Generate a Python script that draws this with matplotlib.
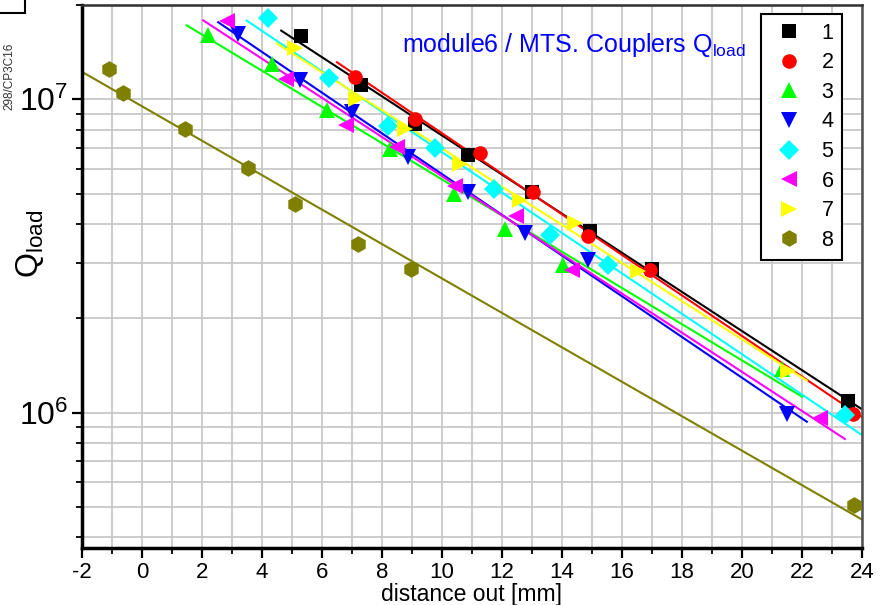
import numpy as np
import matplotlib
matplotlib.use('Agg')
import matplotlib.pyplot as plt
from matplotlib.ticker import LogLocator, MultipleLocator, NullFormatter
from matplotlib.patches import Rectangle

plt.rcParams['font.family'] = ['Liberation Sans', 'DejaVu Sans']
plt.rcParams['mathtext.fontset'] = 'custom'
plt.rcParams['mathtext.rm'] = 'Liberation Sans'
plt.rcParams['mathtext.it'] = 'Liberation Sans:italic'
plt.rcParams['axes.unicode_minus'] = False

# coupler Q_load vs antenna distance, 8 couplers
labels = ['1', '2', '3', '4', '5', '6', '7', '8']

x_1 = [5.29, 7.29, 9.10, 10.87, 13.00, 14.93, 16.99, 23.54]
q_1 = [1.59e7, 1.11e7, 8.32e6, 6.62e6, 5.05e6, 3.79e6, 2.88e6, 1.09e6]

x_2 = [7.10, 9.10, 11.27, 13.02, 14.88, 16.93, 23.70]
q_2 = [1.18e7, 8.63e6, 6.76e6, 5.08e6, 3.66e6, 2.86e6, 9.93e5]

x_3 = [2.20, 4.33, 6.17, 8.27, 10.40, 12.10, 14.03, 21.33]
q_3 = [1.61e7, 1.30e7, 9.22e6, 6.96e6, 4.97e6, 3.86e6, 2.97e6, 1.38e6]

x_4 = [3.20, 5.27, 7.00, 8.87, 10.87, 12.77, 14.87, 21.50]
q_4 = [1.62e7, 1.15e7, 9.12e6, 6.53e6, 5.05e6, 3.75e6, 3.08e6, 9.93e5]

x_5 = [4.21, 6.22, 8.21, 9.77, 11.72, 13.60, 15.54, 23.43]
q_5 = [1.82e7, 1.17e7, 8.21e6, 7.01e6, 5.16e6, 3.68e6, 2.97e6, 9.85e5]

x_6 = [2.82, 4.80, 6.80, 8.50, 10.43, 12.47, 14.33, 22.60]
q_6 = [1.78e7, 1.16e7, 8.26e6, 7.02e6, 5.29e6, 4.23e6, 2.85e6, 9.64e5]

x_7 = [5.10, 7.12, 8.77, 10.60, 12.60, 14.43, 16.53, 21.53]
q_7 = [1.46e7, 1.005e7, 8.02e6, 6.20e6, 4.76e6, 4.02e6, 2.83e6, 1.355e6]

x_8 = [-1.09, -0.62, 1.43, 3.52, 5.10, 7.19, 8.97, 23.74]
q_8 = [1.25e7, 1.045e7, 8.02e6, 6.02e6, 4.65e6, 3.46e6, 2.88e6, 5.08e5]

xs = [x_1, x_2, x_3, x_4, x_5, x_6, x_7, x_8]
qs = [q_1, q_2, q_3, q_4, q_5, q_6, q_7, q_8]

colors = ['#000000', '#ff0000', '#00ff00', '#0000ff', '#00ffff', '#ff00ff', '#ffff00', '#808000']
markers = ['s', 'o', '^', 'v', 'D', '<', '>', 'h']
msizes = [9.5, 10.5, 11, 11, 10, 11, 11, 12]
# x-range of the exponential fit lines
fit_lo = [4.64, 6.5, 1.49, 2.54, 3.49, 2.04, 4.49, -2.0]
fit_hi = [24.5, 24.5, 22.0, 22.16, 24.5, 23.43, 22.16, 24.5]

fig = plt.figure(figsize=(8.87, 6.05), dpi=100)
ax = fig.add_axes([82/887, 57/605, 780/887, 543/605])

handles = []
for i in range(8):
    x = np.array(xs[i])
    q = np.array(qs[i])
    p = np.polyfit(x, np.log10(q), 1)
    xf = np.array([fit_lo[i], fit_hi[i]])
    ax.plot(xf, 10**np.polyval(p, xf), color=colors[i], lw=1.5, zorder=2)
    h, = ax.plot(x, q, linestyle='none', marker=markers[i], ms=msizes[i],
                 color=colors[i], markeredgewidth=0, zorder=3, label=labels[i])
    handles.append(h)

ax.set_yscale('log')
ax.set_xlim(-2, 24)
ax.set_ylim(3.7e5, 2.0e7)
ax.xaxis.set_major_locator(MultipleLocator(2))
ax.xaxis.set_minor_locator(MultipleLocator(1))
ax.yaxis.set_major_locator(LogLocator(base=10))
ax.yaxis.set_minor_locator(LogLocator(base=10, subs=np.arange(2, 10)))
ax.yaxis.set_minor_formatter(NullFormatter())

ax.grid(True, which='both', color='#c8c8c8', lw=1.3)
ax.set_axisbelow(True)

ax.tick_params(which='major', direction='out', length=7, width=1.6, labelsize=16, pad=3)
ax.tick_params(which='minor', direction='out', length=4, width=1.3)
ax.tick_params(axis='y', which='major', labelsize=23)

for s in ['left', 'bottom']:
    ax.spines[s].set_linewidth(2.5)
    ax.spines[s].set_color('black')
ax.spines['top'].set_linewidth(1.8)
ax.spines['top'].set_color('#303030')
ax.spines['right'].set_linewidth(1.8)
ax.spines['right'].set_color('#505050')

ax.set_xlabel('distance out [mm]', fontsize=16.5, labelpad=0)
ax.set_ylabel(r'Q$_{\mathrm{load}}$', fontsize=23)
ax.yaxis.set_label_coords(-0.046, 0.56)

ax.text(0.41, 0.926, r'module6 / MTS. Couplers Q$_{\mathrm{load}}$', color='#0000ff',
        fontsize=18, transform=ax.transAxes, va='center', ha='left')

leg = ax.legend(handles=handles, loc='upper right', bbox_to_anchor=(0.9744, 0.9834),
                borderaxespad=0, fontsize=15.5, labelspacing=0.4, handletextpad=0.6,
                handlelength=1.8, fancybox=False, framealpha=1, edgecolor='black')
leg.get_frame().set_linewidth(1.5)

# file tag in the corner
fig.text(0.004, 0.818, '298/CP3C16', rotation=90, fontsize=8.5, color='#333333',
         ha='left', va='bottom')
fig.add_artist(Rectangle((-0.01, 0.978), 0.038, 0.05, transform=fig.transFigure,
                         fill=False, edgecolor='black', lw=1.5))

fig.savefig('out.png', dpi=100)
